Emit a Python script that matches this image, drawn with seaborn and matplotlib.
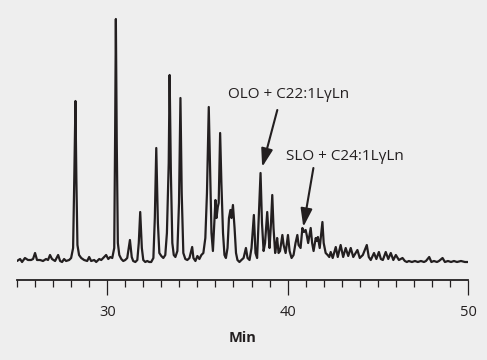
import pandas as pd
import seaborn as sns
import matplotlib.pyplot as plt
from matplotlib.ticker import FixedLocator, MultipleLocator

# ---------------- Data ----------------
# retention time in minutes
time_min = [
    25.00, 25.17, 25.28, 25.44, 25.61, 25.78, 25.89, 26.00, 26.11, 26.28,
    26.44, 26.61, 26.72, 26.83, 26.94, 27.11, 27.28, 27.39, 27.50, 27.61,
    27.72, 27.89, 28.00, 28.11, 28.18, 28.24, 28.29, 28.35, 28.44, 28.56,
    28.72, 28.89, 29.00, 29.11, 29.28, 29.39, 29.56, 29.67, 29.83, 29.94,
    30.06, 30.17, 30.28, 30.39, 30.44, 30.48, 30.53, 30.59, 30.67, 30.78,
    30.89, 31.00, 31.11, 31.26, 31.36, 31.44, 31.56, 31.67, 31.75, 31.83,
    31.92, 32.00, 32.11, 32.22, 32.33, 32.44, 32.56, 32.64, 32.72, 32.81,
    32.89, 33.00, 33.11, 33.22, 33.31, 33.41, 33.46, 33.53, 33.61, 33.69,
    33.78, 33.89, 33.98, 34.06, 34.13, 34.22, 34.33, 34.44, 34.56, 34.71,
    34.78, 34.89, 35.00, 35.11, 35.22, 35.33, 35.44, 35.53, 35.63, 35.71,
    35.78, 35.86, 35.94, 36.00, 36.06, 36.13, 36.18, 36.26, 36.33, 36.42,
    36.50, 36.58, 36.67, 36.75, 36.83, 36.89, 36.97, 37.06, 37.14, 37.22,
    37.33, 37.44, 37.56, 37.69, 37.78, 37.89, 38.00, 38.13, 38.22, 38.31,
    38.39, 38.50, 38.58, 38.67, 38.75, 38.87, 38.94, 39.00, 39.08, 39.15,
    39.22, 39.31, 39.39, 39.42, 39.50, 39.58, 39.71, 39.78, 39.89, 40.02,
    40.11, 40.22, 40.33, 40.44, 40.54, 40.61, 40.72, 40.82, 40.91, 41.00,
    41.06, 41.14, 41.28, 41.36, 41.44, 41.56, 41.61, 41.68, 41.78, 41.93,
    42.00, 42.11, 42.22, 42.31, 42.39, 42.50, 42.67, 42.78, 42.94, 43.08,
    43.22, 43.36, 43.50, 43.64, 43.87, 44.00, 44.17, 44.39, 44.50, 44.61,
    44.79, 44.92, 45.06, 45.17, 45.28, 45.44, 45.58, 45.72, 45.86, 46.00,
    46.17, 46.37, 46.50, 46.61, 46.72, 46.89, 47.06, 47.22, 47.39, 47.56,
    47.67, 47.85, 47.97, 48.11, 48.28, 48.39, 48.59, 48.72, 48.89, 49.06,
    49.22, 49.39, 49.61, 49.83, 50.00,
]

# detector response (arbitrary units)
response = [
    2, 4, 1, 5, 3, 3, 4, 10, 3, 3,
    2, 4, 3, 8, 4, 2, 8, 2, 1, 4,
    2, 3, 5, 15, 90, 162, 85, 18, 8, 5,
    3, 2, 6, 2, 3, 1, 4, 3, 6, 8,
    4, 6, 5, 15, 130, 244, 120, 20, 8, 4,
    2, 3, 5, 23, 6, 2, 1, 3, 20, 51,
    15, 3, 1, 2, 1, 1, 5, 45, 115, 40,
    10, 7, 5, 8, 30, 100, 188, 90, 20, 8,
    6, 12, 60, 165, 70, 10, 4, 3, 5, 16,
    5, 2, 7, 4, 8, 10, 25, 70, 156, 90,
    30, 12, 40, 63, 45, 56, 60, 130, 80, 30,
    8, 5, 15, 45, 53, 45, 58, 35, 10, 3,
    1, 3, 5, 15, 5, 3, 15, 48, 10, 5,
    40, 90, 40, 12, 20, 51, 30, 15, 40, 68,
    35, 10, 20, 25, 10, 12, 28, 18, 10, 28,
    12, 5, 8, 20, 28, 18, 15, 35, 31, 33,
    28, 20, 35, 20, 12, 25, 22, 26, 15, 41,
    20, 10, 8, 6, 11, 5, 16, 6, 18, 6,
    15, 7, 15, 6, 13, 5, 8, 18, 6, 3,
    10, 4, 11, 4, 3, 11, 4, 10, 3, 8,
    3, 5, 2, 1, 2, 1, 2, 1, 2, 1,
    2, 6, 1, 2, 1, 2, 5, 1, 2, 1,
    2, 1, 2, 1, 1,
]

major_ticks = [30, 40, 50]
x_label = "Min"

label_olo = "OLO + C22:1LγLn"
label_slo = "SLO + C24:1LγLn"

# ---------------- Style ----------------
bg_color = "#eeeeee"
ink = "#231f20"

sns.set_style("ticks", {"axes.facecolor": bg_color, "figure.facecolor": bg_color})
plt.rcParams["font.family"] = ["Open Sans", "DejaVu Sans"]

fig = plt.figure(figsize=(4.87, 3.6), dpi=100)
ax = fig.add_axes([17 / 487, 80 / 360, 451 / 487, 270 / 360])

df = pd.DataFrame({"time": time_min, "response": response})
sns.lineplot(data=df, x="time", y="response", ax=ax, color=ink, linewidth=1.6,
             sort=False, estimator=None)
for ln in ax.lines:
    ln.set_solid_joinstyle("round")

ax.set_xlim(25, 50)
ax.set_ylim(-17, 253)

# spines / ticks
for side in ["left", "top", "right"]:
    ax.spines[side].set_visible(False)
ax.spines["bottom"].set_linewidth(1.3)
ax.spines["bottom"].set_color(ink)
ax.set_yticks([])
ax.xaxis.set_major_locator(FixedLocator(major_ticks))
ax.xaxis.set_minor_locator(MultipleLocator(1))
ax.tick_params(axis="x", which="major", length=11, width=0.9, color=ink,
               labelsize=10.5, labelcolor=ink, pad=7)
ax.tick_params(axis="x", which="minor", length=5, width=0.9, color=ink)
ax.set_xlabel(x_label, fontsize=10.5, fontweight="bold", color=ink, labelpad=8)
ax.set_ylabel("")

# annotations
arrow = dict(arrowstyle="-|>,head_length=1.1,head_width=0.35", lw=1.5,
             color=ink, shrinkA=0, shrinkB=0)
ax.text(36.72, 168, label_olo, fontsize=11, color=ink, va="center", ha="left")
ax.annotate("", xy=(38.59, 96), xytext=(39.43, 153), arrowprops=arrow)
ax.text(39.89, 106, label_slo, fontsize=11, color=ink, va="center", ha="left")
ax.annotate("", xy=(40.87, 36), xytext=(41.43, 95), arrowprops=arrow)

fig.savefig("out.png", dpi=100, facecolor=bg_color)
